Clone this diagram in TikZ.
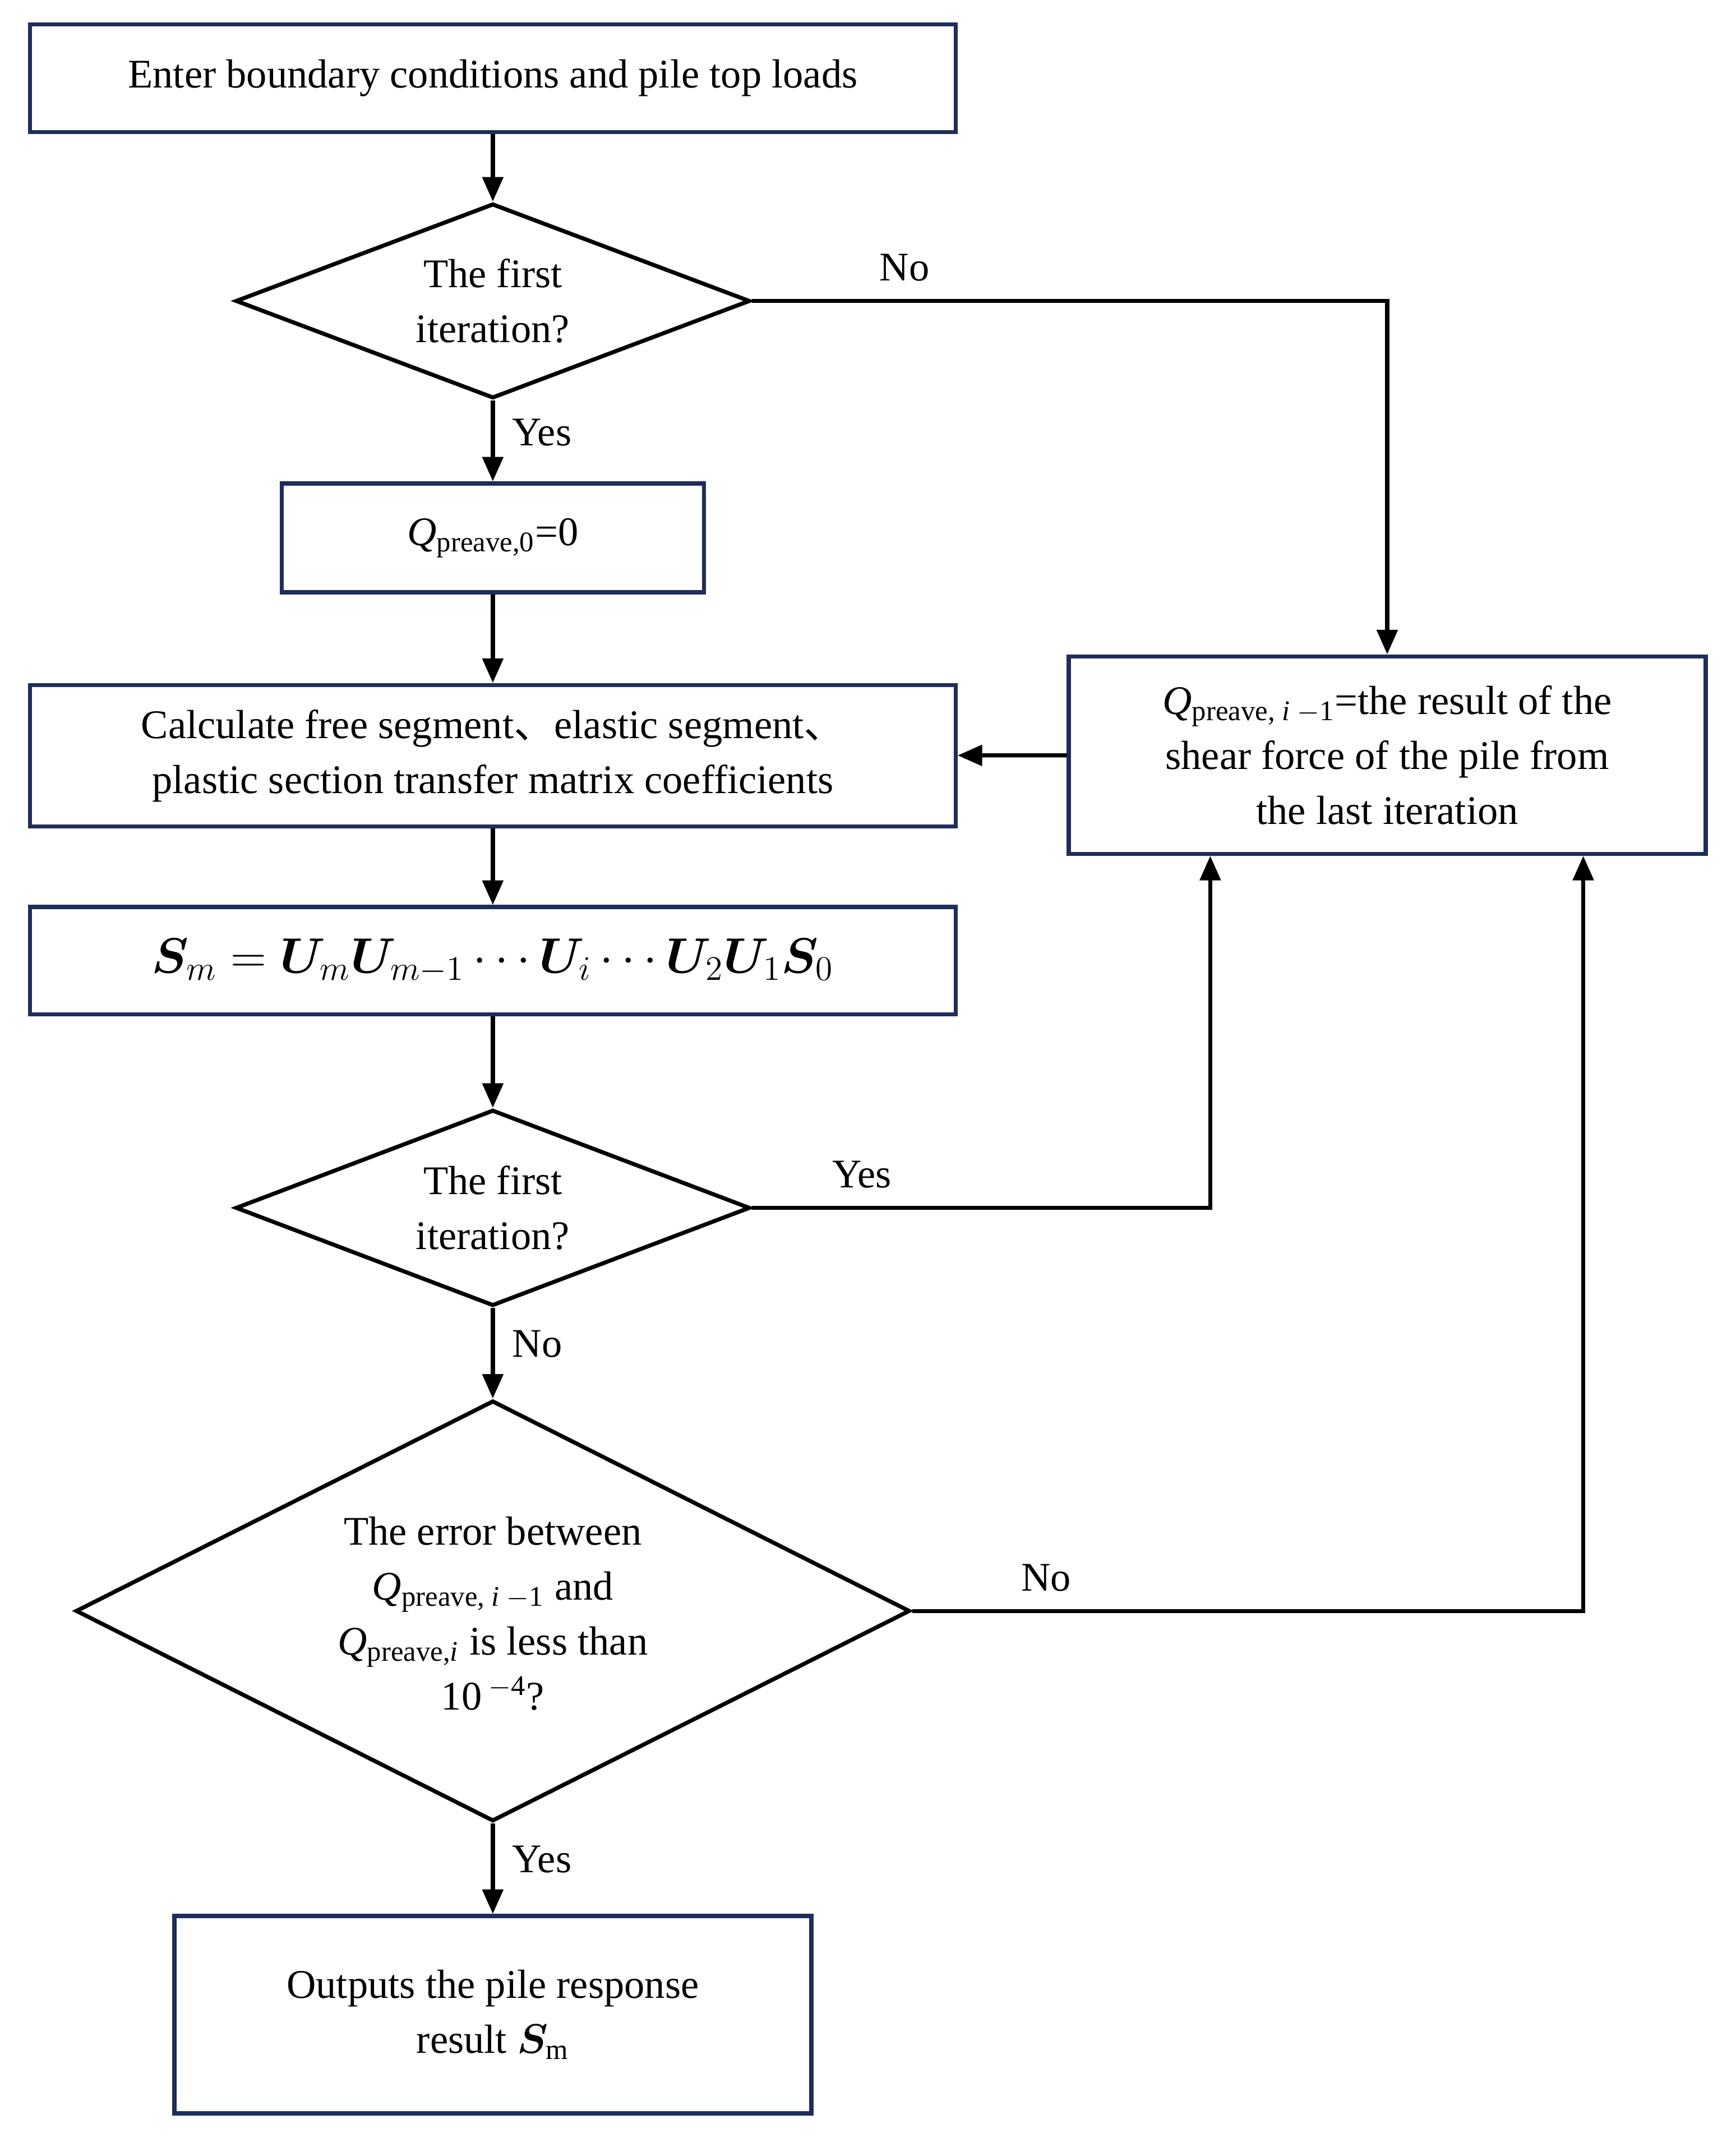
\documentclass[tikz,border=0pt]{standalone}
\usepackage{amsmath}
\usepackage{bm}
\usepackage{fontspec}
\setmainfont{Liberation Serif}
\newfontfamily\cjk{Noto Sans CJK SC}
\usetikzlibrary{shapes.geometric,arrows.meta,positioning}
\definecolor{boxblue}{RGB}{31,45,90}

\begin{document}
\begin{tikzpicture}[x=0.02cm,y=-0.02cm,line width=1.7pt,
		every node/.style={font=\fontsize{17}{23}\selectfont},
		box/.style={draw=boxblue,rectangle,align=center,inner sep=0pt},
		decision/.style={draw=black,diamond,inner sep=0pt,aspect=2.6},
		flow/.style={-{Triangle[length=0.36cm,width=0.3cm]}}]
		\useasboundingbox (0,0) rectangle (1275,1573);
		\node[box,minimum width=13.6cm,minimum height=1.58cm](enter) at (362,57.5) {Enter boundary conditions and pile top loads};
		\node[decision,minimum width=7.56cm,minimum height=2.86cm](first1) at (362,221) {};
		\node[align=center] at (362,221) {The first\\iteration?};
		\node[box,minimum width=6.2cm,minimum height=1.6cm](init) at (362,395) {\textit{Q}\textsubscript{preave,0}=0};
		\node[box,minimum width=13.6cm,minimum height=2.08cm](calc) at (362,555) {Calculate free segment{\cjk 、}elastic segment{\cjk 、}\\plastic section transfer matrix coefficients};
		\node[box,minimum width=9.36cm,minimum height=2.9cm](shear) at (1019,554.5) {\textit{Q}\textsubscript{preave, \textit{i} $-$1}=the result of the\\shear force of the pile from\\the last iteration};
		\node[box,minimum width=13.6cm,minimum height=1.58cm](matrix) at (362,705.5) {\fontsize{20}{24}\selectfont$\bm{S}_m=\bm{U}_m\bm{U}_{m-1}\cdots\bm{U}_i\cdots\bm{U}_2\bm{U}_1\bm{S}_0$};
		\node[decision,minimum width=7.56cm,minimum height=2.88cm](first2) at (362,887) {};
		\node[align=center] at (362,887) {The first\\iteration?};
		\node[decision,minimum width=12.26cm,minimum height=6.18cm](error) at (362,1183) {};
		\node[align=center] at (362,1185) {The error between\\\textit{Q}\textsubscript{preave, \textit{i} $-$1} and\\\textit{Q}\textsubscript{preave,\textit{i}} is less than\\10\,\textsuperscript{$-$4}?};
		\node[box,minimum width=9.36cm,minimum height=2.9cm](output) at (362,1479.5) {Outputs the pile response\\result $\bm{S}_{\mathrm{m}}$};
		% connectors
		\draw[flow] (enter) -- (first1);
		\draw[flow] (first1) -- node[right=4pt,pos=0.4]{Yes} (init);
		\draw[flow] (init) -- (calc);
		\draw[flow] (calc) -- (matrix);
		\draw[flow] (matrix) -- (first2);
		\draw[flow] (first2) -- node[right=4pt,pos=0.4]{No} (error);
		\draw[flow] (error) -- node[right=4pt,pos=0.4]{Yes} (output);
		\draw[flow] (shear) -- (calc);
		\draw[flow] (first1.east) -| node[pos=0.12,above=4pt]{No} (shear.north);
		\draw[flow] (first2.east) -| node[pos=0.12,above=4pt]{Yes} (shear.south -| 889,0);
		\draw[flow] (error.east) -| node[pos=0.1,above=4pt]{No} (shear.south -| 1163,0);
\end{tikzpicture}
\end{document}
